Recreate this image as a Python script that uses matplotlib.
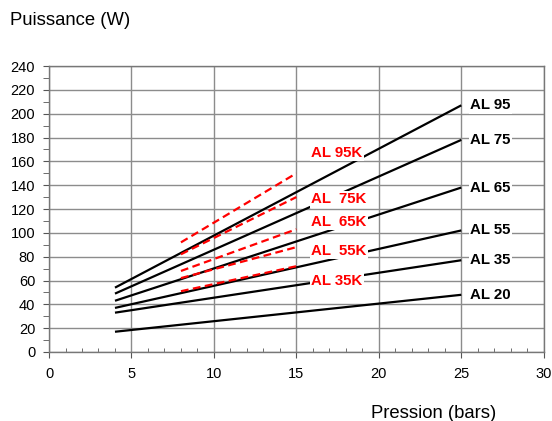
import numpy as np
import matplotlib.pyplot as plt
from matplotlib.ticker import MultipleLocator

plt.rcParams['font.family'] = ['Liberation Sans', 'DejaVu Sans']

# black series: (label, value at 4 bars, value at 25 bars)
black_names = ['AL 20', 'AL 35', 'AL 55', 'AL 65', 'AL 75', 'AL 95']
black_x = [4, 25]
black_y = [[17, 48], [33, 77], [37, 102], [43, 138], [49, 178], [54, 207]]

# red dashed series: value at 8 and 15 bars
red_names = ['AL 35K', 'AL  55K', 'AL  65K', 'AL  75K', 'AL 95K']
red_x = [8, 15]
red_y = [[51, 72], [62, 88], [68, 103], [82, 130], [92, 150]]
red_label_y = [60, 85, 109, 128, 167]

fig = plt.figure(figsize=(5.52, 4.21), dpi=100)
ax = fig.add_axes([0.0888, 0.1639, 0.8962, 0.6793])

for ys in black_y:
    ax.plot(black_x, ys, color='black', lw=1.6, zorder=3, solid_capstyle='butt')
for ys in red_y:
    ax.plot(red_x, ys, color='#ff0000', lw=1.6, ls=(0, (3.5, 2)), zorder=3)

box = dict(facecolor='white', edgecolor='none', pad=1.0)
for name, ys in zip(black_names, black_y):
    ax.text(25.55, ys[1], name, fontsize=10.8, fontweight='bold', color='black',
            ha='left', va='center', bbox=box, zorder=5)
for name, yl in zip(red_names, red_label_y):
    ax.text(15.9, yl, name, fontsize=10.8, fontweight='bold', color='#ff0000',
            ha='left', va='center', bbox=box, zorder=5)

ax.set_xlim(0, 30)
ax.set_ylim(0, 240)
ax.xaxis.set_major_locator(MultipleLocator(5))
ax.xaxis.set_minor_locator(MultipleLocator(1))
ax.yaxis.set_major_locator(MultipleLocator(20))
ax.yaxis.set_minor_locator(MultipleLocator(10))
ax.grid(True, which='major', color='#8c8c8c', lw=1.0, zorder=1)
ax.set_axisbelow(True)
ax.tick_params(axis='both', which='major', labelsize=10.5, length=4, color='#555555', direction='out')
ax.tick_params(axis='y', which='major', pad=6)
ax.tick_params(axis='x', which='major', pad=7)
ax.tick_params(axis='x', which='minor', length=3, color='#555555', direction='in')
ax.tick_params(axis='y', which='minor', length=4, color='#555555', direction='out')
for s in ax.spines.values():
    s.set_color('#777777')
    s.set_linewidth(1.0)

fig.text(0.018, 0.952, 'Puissance (W)', fontsize=13.3, ha='left', va='center')
fig.text(0.672, 0.019, 'Pression (bars)', fontsize=13.3, ha='left', va='center')

fig.savefig('out.png', dpi=100)
